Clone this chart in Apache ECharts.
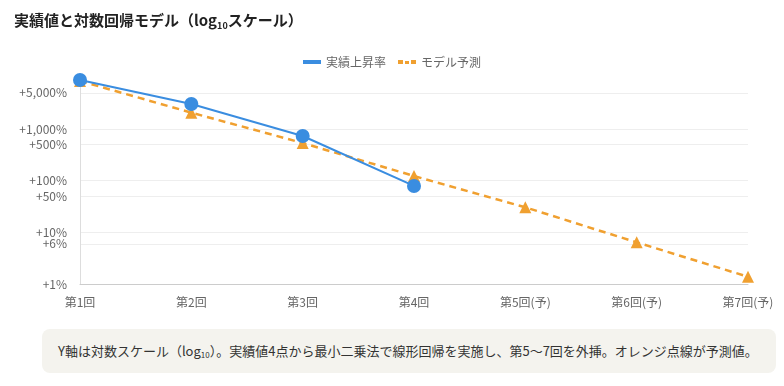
<!DOCTYPE html>
<html><head><meta charset="utf-8">
<script src="https://cdn.jsdelivr.net/npm/echarts@6/dist/echarts.min.js"></script>
<style>
html,body{margin:0;padding:0;background:#fff;width:784px;height:386px;overflow:hidden;font-family:"Noto Sans CJK JP","Noto Sans",sans-serif;}
#title{position:absolute;left:14px;top:8px;font-size:15px;font-weight:bold;color:#222;line-height:24px;}
#title sub{font-size:9px;vertical-align:-3px;line-height:0;}
#chart{position:absolute;left:0;top:0;width:784px;height:320px;}
#note{position:absolute;left:42px;top:329px;width:734px;height:44px;background:#f4f3ee;border-radius:8px;box-sizing:border-box;padding-left:16px;font-size:13px;color:#333;line-height:44px;}
#note sub{font-size:8px;vertical-align:-2px;line-height:0;}
</style></head>
<body>
<div id="chart"></div>
<div id="title">実績値と対数回帰モデル（log<sub>10</sub>スケール）</div>
<div id="note">Y軸は対数スケール（log<sub>10</sub>）。実績値4点から最小二乗法で線形回帰を実施し、第5〜7回を外挿。オレンジ点線が予測値。</div>
<script>
var categories = ['第1回','第2回','第3回','第4回','第5回(予)','第6回(予)','第7回(予)'];
var actualValues = [8870, 3050, 732, 79];
var predictedValues = [8500, 2070, 535, 123, 30.5, 6.4, 1.38];
var tickValues = [1, 6, 10, 50, 100, 500, 1000, 5000];
var seriesNames = ['実績上昇率', 'モデル予測'];

var lg = function (v) { return Math.log10(v); };
var tickLogs = tickValues.map(lg);

var chart = echarts.init(document.getElementById('chart'), null, {renderer: 'canvas'});
chart.setOption({
  animation: false,
  textStyle: {fontFamily: '"Noto Sans CJK JP","Noto Sans",sans-serif'},
  legend: {
    top: 51, left: 'center',
    itemWidth: 18, itemHeight: 4, itemGap: 12,
    textStyle: {color: '#666', fontSize: 12},
    data: [
      {name: seriesNames[0], icon: 'rect'},
      {name: seriesNames[1], icon: 'path://M0,0H5V4H0Z M7,1H11V4H7Z M13,0H18V4H13Z'}
    ]
  },
  grid: {left: 80, right: 36, top: 83, bottom: 36, containLabel: false},
  xAxis: {
    type: 'category', data: categories, boundaryGap: false,
    axisLine: {lineStyle: {color: '#ccc'}},
    axisTick: {show: false},
    axisLabel: {color: '#666', fontSize: 12, margin: 12}
  },
  yAxis: {
    type: 'value', min: 0, max: (284 - 83) / 51.67,
    axisLine: {show: true, lineStyle: {color: '#ddd'}},
    axisTick: {show: false, customValues: tickLogs},
    axisLabel: {
      color: '#666', fontSize: 12, margin: 13, customValues: tickLogs,
      formatter: function (v) {
        var n = Math.round(Math.pow(10, v));
        return '+' + n.toLocaleString('en-US') + '%';
      }
    },
    splitLine: {show: true, lineStyle: {color: '#eee'}}
  },
  series: [
    {
      name: seriesNames[0], type: 'line', z: 3, clip: false,
      data: actualValues.map(lg),
      symbol: 'circle', symbolSize: 14,
      lineStyle: {color: '#3a8de0', width: 2},
      itemStyle: {color: '#3a8de0'}
    },
    {
      name: seriesNames[1], type: 'line', z: 2, clip: false,
      data: predictedValues.map(lg),
      symbol: 'triangle', symbolSize: 12,
      lineStyle: {color: '#f0a030', width: 2.5, type: [7, 5]},
      itemStyle: {color: '#f0a030'}
    }
  ]
});
</script>
</body></html>
